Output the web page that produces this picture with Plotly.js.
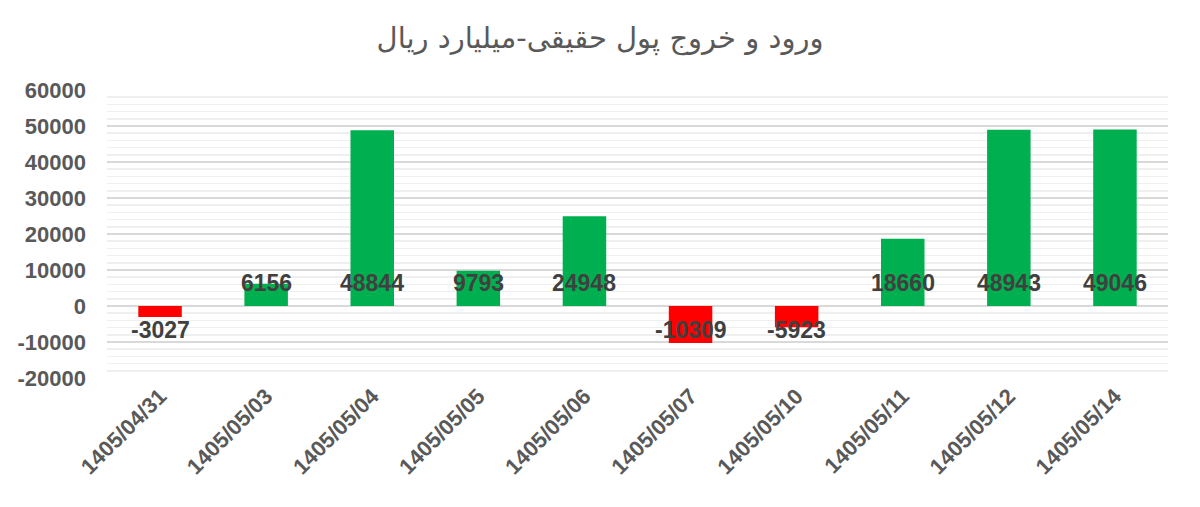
<!DOCTYPE html>
<html><head><meta charset="utf-8">
<script src="https://cdn.plot.ly/plotly-3.0.1.min.js"></script>
<style>html,body{margin:0;padding:0;background:#fff}</style>
</head><body><div id="chart" style="width:1200px;height:507px"></div>
<script>
const categories = ["1405/04/31","1405/05/03","1405/05/04","1405/05/05","1405/05/06","1405/05/07","1405/05/10","1405/05/11","1405/05/12","1405/05/14"];
const values = [-3027, 6156, 48844, 9793, 24948, -10309, -5923, 18660, 48943, 49046];
const yTickVals = [-20000, -10000, 0, 10000, 20000, 30000, 40000, 50000, 60000];
const yTickText = ["-20000", "-10000", "0", "10000", "20000", "30000", "40000", "50000", "60000"];
const titleText = "ورود و خروج پول حقیقی-میلیارد ریال";

const barColors = values.map(v => v < 0 ? "#FF0000" : "#00B050");
const font = "Liberation Sans, Arial, sans-serif";

const bars = {
  type: "bar", x: categories, y: values,
  marker: {color: barColors}, hoverinfo: "x+y", showlegend: false
};
const annotations = values.map((v, i) => ({
  x: categories[i], y: 0, xref: "x", yref: "y",
  text: String(v), showarrow: false, xanchor: "center", yanchor: "middle",
  yshift: v < 0 ? -24 : 23,
  font: {family: font, size: 23, color: "#404040", weight: "bold"}
}));
const layout = {
  width: 1200, height: 507,
  margin: {l: 107, r: 32, t: 90, b: 129},
  paper_bgcolor: "#fff", plot_bgcolor: "#fff",
  title: {text: titleText, x: 0.5, xanchor: "center", y: 0.925, yanchor: "middle",
          font: {family: "DejaVu Sans, sans-serif", size: 29, color: "#595959"}},
  bargap: 0.59,
  annotations: annotations,
  xaxis: {type: "category", tickangle: -45, showgrid: false, zeroline: false, showline: false,
          ticks: "", tickfont: {family: font, size: 22, color: "#595959", weight: "bold"}},
  yaxis: {range: [-20000, 60000], tickmode: "array", tickvals: yTickVals, ticktext: yTickText,
          zeroline: false, showline: false, ticklabelstandoff: 20,
          gridcolor: "#d9d9d9", gridwidth: 1.5, ticks: "",
          tickfont: {family: font, size: 22, color: "#595959", weight: "bold"},
          minor: {dtick: 2000, tick0: 0, showgrid: true, gridcolor: "#efefef", gridwidth: 1.5}}
};
Plotly.newPlot("chart", [bars], layout, {displayModeBar: false, staticPlot: true});
</script></body></html>
